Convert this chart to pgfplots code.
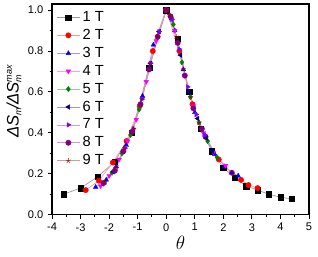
\documentclass[border=0pt]{standalone}
\usepackage{fontspec}
\setmainfont{Liberation Sans}
\usepackage{pgfplots}
\pgfplotsset{compat=1.18}
\definecolor{cOne}{RGB}{0,0,0}
\definecolor{cTwo}{RGB}{255,0,0}
\definecolor{cThree}{RGB}{0,0,255}
\definecolor{cFour}{RGB}{255,0,255}
\definecolor{cFive}{RGB}{0,128,0}
\definecolor{cSix}{RGB}{0,0,128}
\definecolor{cSeven}{RGB}{128,0,255}
\definecolor{cEight}{RGB}{128,0,128}
\definecolor{cNine}{RGB}{160,0,0}
\pgfplotsset{
  ser/.style n args={2}{color=#1!40!white, line width=0.5pt, mark=#2, mark size=2pt,
    mark options={draw=#1, fill=#1, solid, line width=0.3pt}},
}
\newcommand{\sbs}[1]{\raisebox{-2pt}{\fontsize{6.8}{7}\selectfont #1}}
\newcommand{\sps}[1]{\raisebox{5.2pt}{\fontsize{6.8}{7}\selectfont #1}}
\begin{document}
\begin{tikzpicture}
\begin{axis}[
  scale only axis,
  width=192.75pt, height=158pt,
  xmin=-4, xmax=5, ymin=0, ymax=1.03,
  xtick={-4,-3,...,5},
  ytick={0,0.2,...,1.0},
  minor tick num=1,
  tick align=outside,
  xtick pos=bottom, ytick pos=left,
  major tick length=3pt, minor tick length=1.8pt,
  axis line style={line width=0.9pt},
  every tick/.style={line width=0.7pt, black},
  tick label style={font=\fontsize{8.3}{9}\selectfont},
  /pgf/number format/assume math mode=true,
  yticklabel style={/pgf/number format/.cd, fixed, fixed zerofill, precision=1},
  xticklabel style={/pgf/number format/.cd, fixed},
  xlabel={$\theta$},
  xlabel style={font=\fontsize{15}{16}\selectfont, yshift=3pt},
  ylabel={\itshape ΔS\sbs{m}\kern-0.5pt/\kern-0.5ptΔS\rlap{\sbs{m}}\sps{max}},
  ylabel style={font=\fontsize{12.5}{14}\selectfont, yshift=-2pt, xshift=6pt},
  legend style={at={(0.012,0.985)}, anchor=north west, draw=none, fill=none,
    font=\fontsize{11}{12}\selectfont, row sep=0.3pt, inner sep=1pt},
  legend cell align=left,
  legend image code/.code={\draw[#1] (0pt,0pt) -- (17pt,0pt); \draw[#1, only marks] plot coordinates {(8.5pt,0pt)};},
]
\addplot[ser={cOne}{square*}] coordinates {
(-3.6,0.10)(-3.0,0.13)(-2.4,0.185)(-1.8,0.26)(-1.2,0.40)(-0.6,0.72)(0,1.0)(0.4,0.86)(0.8,0.60)(1.2,0.42)(1.6,0.31)(2.0,0.23)(2.4,0.18)(2.8,0.14)(3.2,0.12)(3.6,0.10)(4.0,0.085)(4.4,0.077)};
\addlegendentry{1 T}
\addplot[ser={cTwo}{*}] coordinates {
(-2.82,0.12)(-2.36,0.166)(-1.87,0.255)(-1.39,0.36)(-0.93,0.53)(-0.47,0.80)(0,1.0)(0.46,0.80)(0.92,0.54)(1.38,0.38)(1.84,0.27)(2.3,0.205)(2.62,0.17)(2.88,0.145)(3.2,0.13)};
\addlegendentry{2 T}
\addplot[ser={cThree}{triangle*}] coordinates {
(-2.47,0.135)(-2.1,0.17)(-1.75,0.235)(-1.4,0.34)(-1.2,0.405)(-0.83,0.58)(-0.45,0.83)(0,1.0)(0.3,0.90)(0.6,0.71)(1.0,0.50)(1.35,0.39)(1.7,0.295)(2.05,0.235)(2.3,0.205)(2.52,0.19)};
\addlegendentry{3 T}
\addplot[ser={cFour}{triangle*}, every mark/.append style={rotate=180}] coordinates {
(-2.3,0.14)(-2.0,0.19)(-1.65,0.27)(-1.35,0.36)(-1.05,0.465)(-0.7,0.65)(-0.35,0.85)(0,1.0)(0.3,0.90)(0.65,0.68)(0.95,0.53)(1.3,0.40)(1.65,0.305)(2.08,0.24)};
\addlegendentry{4 T}
\addplot[ser={cFive}{diamond*}] coordinates {
(-2.2,0.152)(-1.9,0.205)(-1.55,0.30)(-1.25,0.39)(-0.95,0.515)(-0.6,0.71)(-0.3,0.87)(0,1.0)(0.25,0.93)(0.55,0.745)(0.85,0.575)(1.15,0.45)(1.45,0.36)(1.78,0.28)};
\addlegendentry{5 T}
\addplot[ser={cSix}{triangle*}, every mark/.append style={rotate=90}] coordinates {
(-2.15,0.16)(-1.85,0.21)(-1.5,0.31)(-1.2,0.405)(-0.9,0.54)(-0.55,0.74)(-0.25,0.895)(0,1.0)(0.2,0.955)(0.5,0.78)(0.8,0.60)(1.1,0.47)(1.4,0.375)(1.62,0.31)};
\addlegendentry{6 T}
\addplot[ser={cSeven}{triangle*}, every mark/.append style={rotate=-90}] coordinates {
(-2.2,0.152)(-1.8,0.22)(-1.45,0.325)(-1.15,0.42)(-0.85,0.565)(-0.55,0.74)(-0.25,0.895)(0,1.0)(0.2,0.955)(0.45,0.81)(0.75,0.625)(1.05,0.49)(1.35,0.39)};
\addlegendentry{7 T}
\addplot[ser={cEight}{*}] coordinates {
(-2.2,0.155)(-1.8,0.215)(-1.5,0.31)(-1.2,0.405)(-0.9,0.54)(-0.6,0.71)(-0.3,0.87)(0,1.0)(0.15,0.97)(0.4,0.84)(0.65,0.68)(0.95,0.52)(1.25,0.42)};
\addlegendentry{8 T}
\addplot[ser={cNine}{star}] coordinates {
(-2.15,0.16)(-1.75,0.235)(-1.45,0.325)(-1.15,0.42)(-0.85,0.565)(-0.55,0.74)(-0.3,0.87)(0,1.0)(0.12,0.975)(0.35,0.87)(0.6,0.71)(0.85,0.575)(1.15,0.45)};
\addlegendentry{9 T}
\end{axis}
\pgfresetboundingbox
\useasboundingbox ([shift={(-39pt,-31pt)}]current axis.south west) rectangle ([shift={(6.75pt,3pt)}]current axis.north east);
\end{tikzpicture}
\end{document}
